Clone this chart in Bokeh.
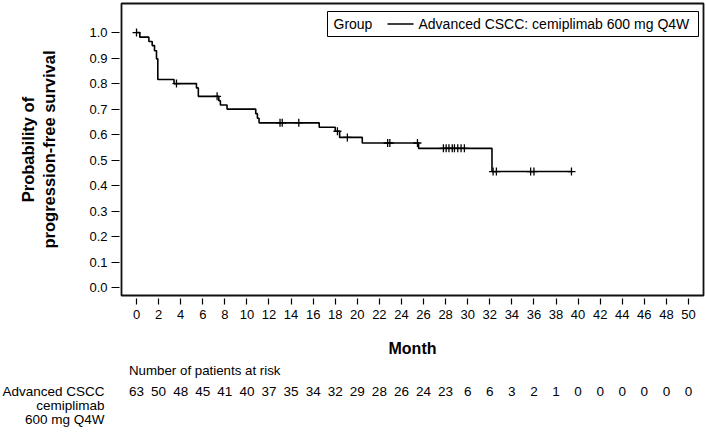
import numpy as np
from bokeh.plotting import figure
from bokeh.models import Range1d, FixedTicker, NumeralTickFormatter, BoxAnnotation, Label
from bokeh.layouts import column
from bokeh.embed import file_html
from bokeh.resources import INLINE
from bokeh.core.properties import value

# ---------------- data ----------------
group_name = "Advanced CSCC: cemiplimab 600 mg Q4W"
event_months = [0.30, 1.12, 1.42, 1.63, 1.81, 1.93, 3.40, 5.43, 5.60, 7.45, 7.60,
                8.20, 10.80, 10.95, 11.10, 16.55, 18.00, 18.40, 20.45, 25.55, 32.20]
event_surv = [0.982, 0.965, 0.949, 0.929, 0.897, 0.816, 0.800, 0.783, 0.750, 0.733, 0.716,
              0.700, 0.682, 0.664, 0.646, 0.629, 0.613, 0.589, 0.567, 0.546, 0.455]
last_followup = 39.4
censor_months = [0.0, 3.62, 7.30, 13.0, 13.2, 14.7, 18.2, 19.1, 22.75, 22.95, 25.45,
                 27.8, 28.05, 28.3, 28.6, 28.8, 29.1, 29.4, 29.7, 32.3, 32.6, 35.7, 36.0, 39.4]
x_ticks = list(range(0, 51, 2))
y_ticks = [0.0, 0.1, 0.2, 0.3, 0.4, 0.5, 0.6, 0.7, 0.8, 0.9, 1.0]
risk_months = list(range(0, 51, 2))
at_risk = [63, 50, 48, 45, 41, 40, 37, 35, 34, 32, 29, 28, 26, 24, 23,
           6, 6, 3, 2, 1, 0, 0, 0, 0, 0, 0]
risk_title = "Number of patients at risk"
risk_row_label = ["Advanced CSCC", "cemiplimab", "600 mg Q4W"]

# ---------------- layout ----------------
FONT = "Liberation Sans"
FW = 706
TOP, LEFT, RIGHT, BOTTOM = 3, 121, 3, 66
FRAME_H = 292
H1 = TOP + FRAME_H + BOTTOM
H2 = 434 - H1
FRAME_W = FW - LEFT - RIGHT
X0, X1 = -1.36, 51.36
Y0, Y1 = -0.031, 1.114
FL = LEFT                  # frame left in page px
FT = TOP                   # frame top in page px
PPM = FRAME_W / (X1 - X0)  # px per month


def dx(px):
    return X0 + (px - FL) / PPM


def dy(py):
    return Y1 - (py - FT) / FRAME_H * (Y1 - Y0)


p = figure(width=FW, height=H1, x_range=Range1d(X0, X1), y_range=Range1d(Y0, Y1),
           output_backend="svg", toolbar_location=None,
           min_border_top=TOP, min_border_left=LEFT, min_border_right=RIGHT,
           min_border_bottom=BOTTOM)
p.xgrid.visible = False
p.ygrid.visible = False
p.outline_line_color = "#111111"
p.outline_line_width = 1.8
p.background_fill_color = "white"
p.border_fill_color = "white"

# KM curve
step_x = [0.0] + event_months + [last_followup]
step_y = [1.0] + event_surv + [event_surv[-1]]
p.step(step_x, step_y, mode="after", line_color="black", line_width=1.6)

levels = np.array([1.0] + event_surv)
idx = np.searchsorted(np.array(event_months), np.array(censor_months), side="right")
censor_y = levels[idx]
p.scatter(censor_months, censor_y, marker="cross", size=8, line_color="black", line_width=1.3)

# axes
for ax in (p.xaxis[0], p.yaxis[0]):
    ax.axis_line_color = None
    ax.minor_tick_line_color = None
    ax.major_tick_line_color = "black"
    ax.major_tick_line_width = 1.2
    ax.major_label_text_font = FONT
    ax.major_label_text_font_size = "13px"
    ax.major_label_text_color = "black"
    ax.axis_label_text_font = FONT
    ax.axis_label_text_font_style = "bold"
    ax.axis_label_text_font_size = "16px"
    ax.axis_label_text_color = "black"

p.xaxis.ticker = FixedTicker(ticks=x_ticks)
p.xaxis.major_tick_in = -3
p.xaxis.major_tick_out = 9
p.xaxis.major_label_standoff = 5
p.xaxis.axis_label = "Month"
p.xaxis.axis_label_standoff = 18

p.yaxis.ticker = FixedTicker(ticks=y_ticks)
p.yaxis.formatter = NumeralTickFormatter(format="0.0")
p.yaxis.major_tick_in = -2
p.yaxis.major_tick_out = 10
p.yaxis.major_label_standoff = 4
p.yaxis.axis_label = "Probability of\nprogression-free survival"
p.yaxis.axis_label_text_font_size = "16.5px"
p.yaxis.axis_label_standoff = 28

# legend (drawn as annotations)
LB_L, LB_R, LB_T, LB_B = 327, 698, 11, 36
ly = (LB_T + LB_B) / 2
p.add_layout(BoxAnnotation(left=dx(LB_L), right=dx(LB_R), top=dy(LB_T), bottom=dy(LB_B),
                           fill_alpha=0, line_color="black", line_alpha=1, line_width=1))
p.add_layout(Label(x=dx(LB_L + 6), y=dy(ly), text="Group", text_font=FONT,
                   text_font_size="14px", text_baseline="middle", text_align="left",
                   text_color="black"))
p.segment(x0=[dx(LB_L + 60)], y0=[dy(ly)], x1=[dx(LB_L + 86)], y1=[dy(ly)],
          line_color="black", line_width=1.6)
p.add_layout(Label(x=dx(LB_L + 91), y=dy(ly), text=group_name, text_font=FONT,
                   text_font_size="14px", text_baseline="middle", text_align="left",
                   text_color="black"))

# ---------------- risk table ----------------
X0_2 = X0 - FL / PPM
X1_2 = X0_2 + FW / PPM
p2 = figure(width=FW, height=H2, x_range=Range1d(X0_2, X1_2), y_range=Range1d(H2, 0),
            output_backend="svg", toolbar_location=None,
            x_axis_location=None, y_axis_location=None,
            min_border=0, min_border_top=0, min_border_bottom=0,
            min_border_left=0, min_border_right=0)
if "frame_align" in p2.properties():
    p2.frame_align = False
p2.xgrid.visible = False
p2.ygrid.visible = False
p2.outline_line_color = None


def dx2(px):
    return X0_2 + px / PPM


def yy2(py):
    return py - H1


ROW_Y = [yy2(391), yy2(405), yy2(419)]
p2.text(x=risk_months, y=[ROW_Y[0]] * len(risk_months), text=[str(v) for v in at_risk],
        text_align="center", text_baseline="middle", text_font=value(FONT),
        text_font_size="13.5px", text_color="black")
p2.text(x=[dx2(128.5)], y=[yy2(370)], text=[risk_title], text_align="left",
        text_baseline="middle", text_font=value(FONT), text_font_size="13.3px",
        text_color="black")
p2.text(x=[dx2(104)] * 3, y=ROW_Y, text=risk_row_label, text_align="right",
        text_baseline="middle", text_font=value(FONT), text_font_size="13.5px",
        text_color="black")

layout = column(p, p2, spacing=0)
open("out.html", "w").write(file_html(layout, INLINE))
